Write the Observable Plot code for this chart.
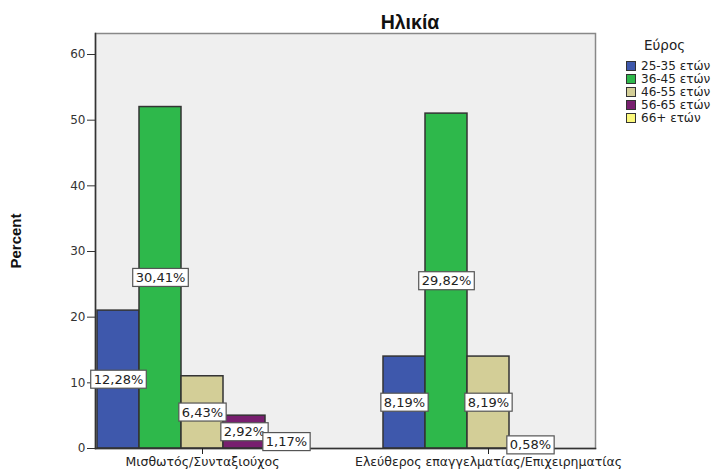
<!DOCTYPE html>
<html>
<head>
<meta charset="utf-8">
<script src="https://cdn.jsdelivr.net/npm/d3@7"></script>
<script src="https://cdn.jsdelivr.net/npm/@observablehq/plot@0.6"></script>
<style>
  html, body { margin: 0; padding: 0; background: #fff; }
  #wrap { position: relative; width: 717px; height: 469px; font-family: "DejaVu Sans", sans-serif; }
  #title { position: absolute; left: 310px; width: 200px; top: 11px; text-align: center; font-family: "Liberation Sans", Arial, sans-serif; font-weight: bold; font-size: 19.5px; color: #111; }
  #legend { position: absolute; left: 626px; top: 37px; font-size: 12px; color: #222; }
  #legend .lt { font-size: 13.5px; margin-left: 18px; margin-bottom: 6px; margin-top: 0px; }
  #legend .row { display: flex; align-items: center; height: 13px; }
  #legend .sw { width: 8px; height: 8px; border: 1px solid #333; margin-right: 5px; }
</style>
</head>
<body>
<div id="wrap">
  <div id="chart"></div>
  <div id="title">Ηλικία</div>
  <div id="legend"></div>
</div>
<script>
const groups = ["Μισθωτός/Συνταξιούχος", "Ελεύθερος επαγγελματίας/Επιχειρηματίας"];
const ages = ["25-35 ετών", "36-45 ετών", "46-55 ετών", "56-65 ετών", "66+ ετών"];
const ageColors = ["#3e58ac", "#2eb84b", "#d3ce97", "#781f6f", "#fbf87b"];
const percentEmployee = [21.0, 52.0, 11.0, 5.0, 2.0];
const percentFreelance = [14.0, 51.0, 14.0, 1.0, null];
const labelEmployee = [12.28, 30.41, 6.43, 2.92, 1.17];
const labelFreelance = [8.19, 29.82, 8.19, 0.58, null];
const yTicks = [0, 10, 20, 30, 40, 50, 60];
const legendTitle = "Εύρος";
const yLabel = "Percent";

const data = [];
[[percentEmployee, labelEmployee], [percentFreelance, labelFreelance]].forEach(([vals, labs], gi) => {
  vals.forEach((v, i) => {
    if (v != null) data.push({group: groups[gi], age: ages[i], value: v, label: labs[i]});
  });
});

const fmt = v => v.toFixed(2).replace(".", ",") + "%";

const plot = Plot.plot({
  width: 717,
  height: 469,
  marginLeft: 68,
  marginRight: 94,
  marginTop: 33,
  marginBottom: 21,
  style: {fontFamily: "DejaVu Sans, sans-serif", background: "transparent"},
  fx: {domain: groups, paddingInner: 0.251, paddingOuter: 0.0925, label: null},
  x: {domain: ages, padding: 0, axis: null},
  y: {domain: [0, 63.2], label: null},
  color: {domain: ages, range: ageColors},
  marks: [
    Plot.frame({facet: "super", fill: "#efefef", stroke: "#888", strokeWidth: 1.5}),
    Plot.barY(data, {fx: "group", x: "age", y: "value", fill: "age", stroke: "#333", strokeWidth: 1.5, inset: 0}),
    Plot.frame({facet: "super", anchor: "bottom", stroke: "#333", strokeWidth: 1.5}),
    Plot.frame({facet: "super", anchor: "left", stroke: "#333", strokeWidth: 1.5}),
    Plot.axisY({ticks: yTicks, tickSize: 8, tickPadding: 2, fontSize: 12, color: "#333", stroke: "#333", label: yLabel, labelAnchor: "center", labelArrow: "none", labelOffset: 85}),
    Plot.axisFx({anchor: "bottom", tickSize: 6, tickPadding: 3, fontSize: 12.5, color: "#222", label: null}),
    Plot.text(data, {fx: "group", x: "age", y: d => d.value / 2, text: d => fmt(d.label), fontSize: 13, fill: "#222", className: "lbl"})
  ]
});

document.getElementById("chart").appendChild(plot);

// y label bold
plot.querySelectorAll("text").forEach(t => {
  if (t.textContent === yLabel) {
    t.setAttribute("font-weight", "bold");
    t.setAttribute("font-size", "15");
    t.setAttribute("font-family", "Liberation Sans, Arial, sans-serif");
    t.setAttribute("fill", "#111");
  }
});

// label boxes
plot.querySelectorAll("g.lbl text").forEach(t => {
  const b = t.getBBox();
  const r = document.createElementNS("http://www.w3.org/2000/svg", "rect");
  r.setAttribute("x", b.x - 3);
  r.setAttribute("y", b.y - 1.5);
  r.setAttribute("width", b.width + 6);
  r.setAttribute("height", b.height + 3);
  r.setAttribute("fill", "#fff");
  r.setAttribute("stroke", "#555");
  r.setAttribute("stroke-width", "1.2");
  const tr = t.getAttribute("transform");
  if (tr) r.setAttribute("transform", tr);
  t.parentNode.insertBefore(r, t);
});

// legend
const leg = document.getElementById("legend");
const lt = document.createElement("div");
lt.className = "lt";
lt.textContent = legendTitle;
leg.appendChild(lt);
ages.forEach((a, i) => {
  const row = document.createElement("div");
  row.className = "row";
  const sw = document.createElement("div");
  sw.className = "sw";
  sw.style.background = ageColors[i];
  const tx = document.createElement("span");
  tx.textContent = a;
  row.appendChild(sw);
  row.appendChild(tx);
  leg.appendChild(row);
});
</script>
</body>
</html>
